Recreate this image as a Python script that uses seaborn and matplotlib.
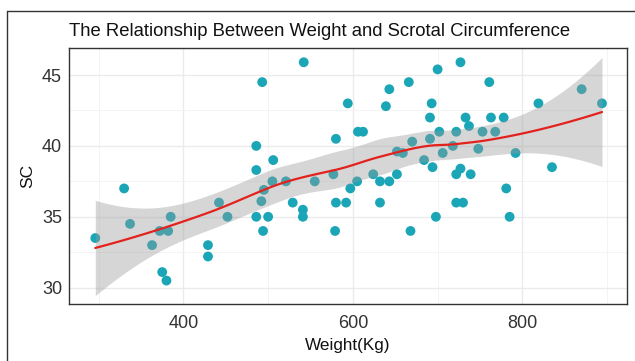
import numpy as np
import pandas as pd
import seaborn as sns
import matplotlib.pyplot as plt
from matplotlib.lines import Line2D

# values
weight = [296, 330, 337, 363, 372, 382, 385, 375, 380, 429, 429, 442, 452,
          493, 542, 486, 486, 506, 495, 492, 505, 521, 486, 500, 494,
          529, 541, 541, 555, 580, 577, 580, 579, 592, 597, 605, 594,
          606, 612, 624, 632, 643, 632, 639, 643, 652, 652, 659, 666,
          670, 668, 684, 691, 693, 691, 694, 700, 702, 706, 698,
          727, 761, 722, 733, 737, 753, 763, 768, 778, 718, 748, 792,
          722, 727, 739, 722, 730, 781, 785, 819, 835, 870, 894]
sc = [33.5, 37.0, 34.5, 33.0, 34.0, 34.0, 35.0, 31.1, 30.5, 33.0, 32.2, 36.0, 35.0,
      44.5, 45.9, 40.0, 38.3, 39.0, 36.9, 36.1, 37.5, 37.5, 35.0, 35.0, 34.0,
      36.0, 35.5, 35.0, 37.5, 40.5, 38.0, 36.0, 34.0, 36.0, 37.0, 37.5, 43.0,
      41.0, 41.0, 38.0, 37.5, 37.5, 36.0, 42.8, 44.0, 38.0, 39.6, 39.5, 44.5,
      40.3, 34.0, 39.0, 42.0, 43.0, 40.5, 38.5, 45.4, 41.0, 39.5, 35.0,
      45.9, 44.5, 41.0, 42.0, 41.4, 41.0, 42.0, 41.0, 42.0, 40.0, 39.8, 39.5,
      38.0, 38.4, 38.0, 36.0, 36.0, 37.0, 35.0, 43.0, 38.5, 44.0, 43.0]

df = pd.DataFrame({"Weight": weight, "SC": sc})


def loess_fit(x, y, grid, span=0.75, cell=0.2):
    # local quadratic loess, evaluated at kd-tree vertices and joined by
    # cubic hermite interpolation (roughly what R's loess does by default)
    n = len(x)
    q = int(np.floor(n * span))

    def local(x0):
        d = np.abs(x - x0)
        h = np.sort(d)[q - 1]
        w = np.clip(1 - (d / h) ** 3, 0, None) ** 3
        X = np.column_stack([np.ones(n), x - x0, (x - x0) ** 2])
        XtW = X.T * w
        B = np.linalg.solve(XtW @ X, XtW)
        return B[0], B[1]

    fc = int(np.floor(n * span * cell))
    xsorted = np.sort(x)
    margin = 0.005 * (xsorted[-1] - xsorted[0])
    verts = {xsorted[0] - margin, xsorted[-1] + margin}

    def split(lo, hi):
        pts = xsorted[(xsorted >= lo) & (xsorted <= hi)]
        if len(pts) <= fc:
            return
        m = len(pts)
        v = pts[(m - 1) // 2] if m % 2 else (pts[m // 2 - 1] + pts[m // 2]) / 2
        if v <= lo or v >= hi:
            return
        verts.add(v)
        split(lo, v)
        split(v, hi)

    split(min(verts), max(verts))
    verts = np.array(sorted(verts))
    vals, slopes = zip(*[local(v) for v in verts])
    vals, slopes = np.array(vals), np.array(slopes)

    def rows(points):
        out = []
        for p in points:
            k = min(np.searchsorted(verts, p, side="right") - 1, len(verts) - 2)
            h = verts[k + 1] - verts[k]
            t = (p - verts[k]) / h
            out.append((2 * t ** 3 - 3 * t ** 2 + 1) * vals[k]
                       + (t ** 3 - 2 * t ** 2 + t) * h * slopes[k]
                       + (-2 * t ** 3 + 3 * t ** 2) * vals[k + 1]
                       + (t ** 3 - t ** 2) * h * slopes[k + 1])
        return np.array(out)

    L = rows(x)
    R = np.eye(n) - L
    RR = R.T @ R
    d1 = np.trace(RR)
    d2 = np.trace(RR @ RR)
    sigma = np.sqrt(np.sum((R @ y) ** 2) / d1)
    dof = d1 ** 2 / d2
    z = 1.959964
    t = z + (z ** 3 + z) / (4 * dof) + (5 * z ** 5 + 16 * z ** 3 + 3 * z) / (96 * dof ** 2)
    Lg = rows(grid)
    fit = Lg @ y
    se = sigma * np.sqrt(np.sum(Lg ** 2, axis=1))
    return fit, fit - t * se, fit + t * se


xs = np.linspace(df.Weight.min(), df.Weight.max(), 80)
fit, lo, hi = loess_fit(df.Weight.to_numpy(float), df.SC.to_numpy(float), xs)

sns.set_style("white")
plt.rcParams['font.family'] = ['Liberation Sans', 'DejaVu Sans']

fig = plt.figure(figsize=(6.35, 3.61), dpi=100)
ax = fig.add_axes([0.1087, 0.158, 0.878, 0.708])

sns.scatterplot(data=df, x="Weight", y="SC", ax=ax, color="#1AA6B6",
                s=50, edgecolor="none", linewidth=0, zorder=2)
ax.fill_between(xs, lo, hi, color="#999999", alpha=0.4, linewidth=0, zorder=3)
sns.lineplot(x=xs, y=fit, ax=ax, color="#E3221E", linewidth=1.6, zorder=4)

ax.set_xlim(265, 923)
ax.set_ylim(28.85, 46.88)
ax.set_xticks([400, 600, 800])
ax.set_xticks([300, 500, 700, 900], minor=True)
ax.set_yticks([30, 35, 40, 45])
ax.set_yticks([32.5, 37.5, 42.5], minor=True)
ax.grid(which="major", color="#EBEBEB", linewidth=1.0, zorder=0)
ax.grid(which="minor", color="#F2F2F2", linewidth=0.6, zorder=0)
ax.set_axisbelow(True)
ax.tick_params(which="major", length=3, width=0.8, color="#333333",
               labelsize=13, labelcolor="#333333", pad=2)
ax.tick_params(axis="x", which="major", pad=5)
ax.tick_params(which="minor", length=0)
for sp in ax.spines.values():
    sp.set_color("#333333")
    sp.set_linewidth(1.0)

ax.set_xlabel("Weight(Kg)", fontsize=12.3, color="#111111", labelpad=4)
ax.set_ylabel("SC", fontsize=12.5, color="#111111", labelpad=5)
ax.set_title("The Relationship Between Weight and Scrotal Circumference",
             fontsize=13.3, loc="left", x=0.0, pad=9, color="#111111")

# outer frame visible on the left and top of the reference image
fig.add_artist(Line2D([7 / 635, 7 / 635], [0, 1 - 11 / 361], transform=fig.transFigure,
                      color="#333333", linewidth=1.0))
fig.add_artist(Line2D([7 / 635, 1], [1 - 11 / 361, 1 - 11 / 361], transform=fig.transFigure,
                      color="#333333", linewidth=1.0))

fig.savefig("out.png", dpi=100)
